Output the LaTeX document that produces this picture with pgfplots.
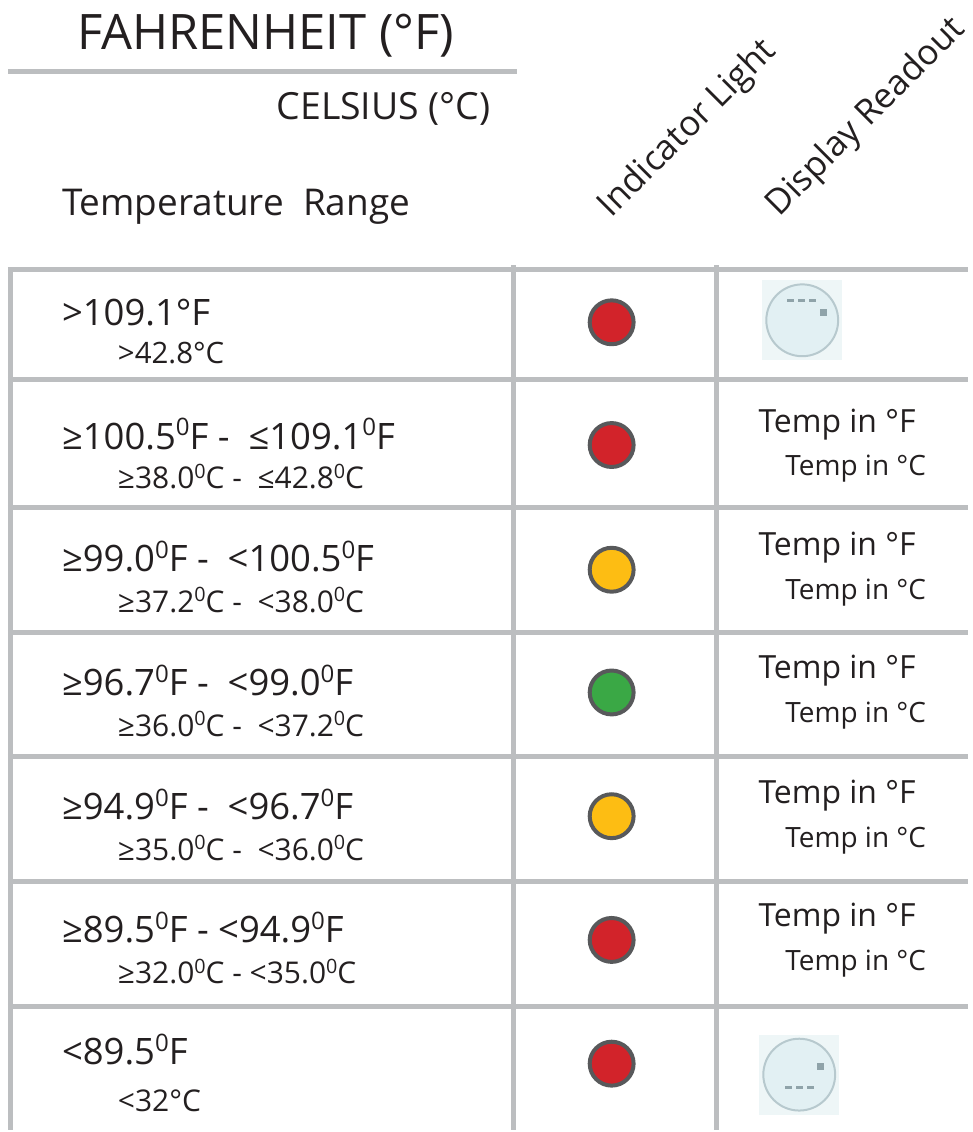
\documentclass[border=0pt]{standalone}
\usepackage{fontspec}
\setmainfont{Open Sans}
\usepackage{pgfplots}
\pgfplotsset{compat=1.18}
\usepackage{pgfplotstable}
\definecolor{gridc}{HTML}{BCBEC0}
\definecolor{txt}{HTML}{231F20}
\definecolor{cred}{HTML}{D2232A}
\definecolor{cyel}{HTML}{FDBD13}
\definecolor{cgrn}{HTML}{3AA845}
\definecolor{ring}{HTML}{58595B}
\definecolor{iconbg}{HTML}{EEF6F7}
\definecolor{iconfill}{HTML}{E2F0F3}
\definecolor{iconring}{HTML}{B7C9CE}
\definecolor{icondash}{HTML}{8FA3A9}
\newcommand\fs[1]{\fontsize{#1}{#1}\selectfont}
\newcommand\sz[1]{\raisebox{0.36em}{\scalebox{0.66}{#1}}}
\pgfplotstableread{
x y
613 323
613 446
613 942
613 1066
}\redlights
\pgfplotstableread{
x y
613 571
613 818
}\yellowlights
\pgfplotstableread{
x y
613 694
}\greenlights
\pgfplotstableread{
x y
804 321
801 1077
}\icons
\pgfplotstableread{
x y
792 301
803 301
814 301
790 1090
801 1090
812 1090
}\icondashes
\tikzset{tx/.style={inner sep=0pt, text=txt, anchor=base west}}
\begin{document}
\begin{tikzpicture}
\begin{axis}[
  width=970pt, height=1132pt, scale only axis,
  xmin=0, xmax=970, ymin=0, ymax=1132, y dir=reverse,
  axis lines=none, clip=false,
]
% table lines
\addplot[gridc, line width=5pt] coordinates {(8,71.5) (518,71.5)};
\addplot[gridc, line width=5pt] coordinates {(8,270) (970,270)};
\addplot[gridc, line width=5pt] coordinates {(8,380) (970,380)};
\addplot[gridc, line width=5pt] coordinates {(8,509) (970,509)};
\addplot[gridc, line width=5pt] coordinates {(8,634) (970,634)};
\addplot[gridc, line width=5pt] coordinates {(8,758) (970,758)};
\addplot[gridc, line width=5pt] coordinates {(8,883) (970,883)};
\addplot[gridc, line width=5pt] coordinates {(8,1009) (970,1009)};
\addplot[gridc, line width=5pt] coordinates {(10.5,268) (10.5,1132)};
\addplot[gridc, line width=5pt] coordinates {(515,266) (515,1132)};
\addplot[gridc, line width=5pt] coordinates {(718,266) (718,1132)};
% indicator lights
\addplot[only marks, mark=*, mark size=22pt, line width=4pt, draw=ring, fill=cred] table[x=x,y=y]{\redlights};
\addplot[only marks, mark=*, mark size=22pt, line width=4pt, draw=ring, fill=cyel] table[x=x,y=y]{\yellowlights};
\addplot[only marks, mark=*, mark size=22pt, line width=4pt, draw=ring, fill=cgrn] table[x=x,y=y]{\greenlights};
% display icons
\addplot[only marks, mark=square*, mark size=39.5pt, draw=iconbg, fill=iconbg, line width=0pt] table[x=x,y=y]{\icons};
\addplot[only marks, mark=*, mark size=36pt, line width=2pt, draw=iconring, fill=iconfill] table[x=x,y=y]{\icons};
\addplot[only marks, mark=-, mark size=3.5pt, line width=2.5pt, draw=icondash] table[x=x,y=y]{\icondashes};
\addplot[only marks, mark=square*, mark size=3pt, draw=icondash, fill=icondash] coordinates {(825,313) (822,1069)};
% headers
\node[tx, font=\fs{49}] at (axis cs:77,50) {FAHRENHEIT (°F)};
\node[tx, font=\fs{37.5}] at (axis cs:277,120) {CELSIUS (°C)};
\node[tx, font=\fs{37}] at (axis cs:62,216) {Temperature\ \ Range};
\node[tx, font=\fs{35}, rotate=45] at (axis cs:613,219) {Indicator Light};
\node[tx, font=\fs{35}, rotate=45] at (axis cs:781,218) {Display Readout};
% rows
\node[tx, font=\fs{36.5}] at (axis cs:62,326) {>109.1°F};
\node[tx, font=\fs{29.5}] at (axis cs:118,364) {>42.8°C};
\node[tx, font=\fs{36.5}] at (axis cs:62,450) {≥100.5\sz{0}F -\ \ ≤109.1\sz{0}F};
\node[tx, font=\fs{30}] at (axis cs:118,490) {≥38.0\sz{0}C -\ \ ≤42.8\sz{0}C};
\node[tx, font=\fs{36.5}] at (axis cs:62,573) {≥99.0\sz{0}F -\ \ <100.5\sz{0}F};
\node[tx, font=\fs{30}] at (axis cs:118,614) {≥37.2\sz{0}C -\ \ <38.0\sz{0}C};
\node[tx, font=\fs{36.5}] at (axis cs:62,697) {≥96.7\sz{0}F -\ \ <99.0\sz{0}F};
\node[tx, font=\fs{30}] at (axis cs:118,738) {≥36.0\sz{0}C -\ \ <37.2\sz{0}C};
\node[tx, font=\fs{36.5}] at (axis cs:62,821) {≥94.9\sz{0}F -\ \ <96.7\sz{0}F};
\node[tx, font=\fs{30}] at (axis cs:118,862) {≥35.0\sz{0}C -\ \ <36.0\sz{0}C};
\node[tx, font=\fs{36.5}] at (axis cs:62,945) {≥89.5\sz{0}F - <94.9\sz{0}F};
\node[tx, font=\fs{30}] at (axis cs:118,986) {≥32.0\sz{0}C - <35.0\sz{0}C};
\node[tx, font=\fs{36.5}] at (axis cs:62,1067) {<89.5\sz{0}F};
\node[tx, font=\fs{30}] at (axis cs:118,1114) {<32°C};
% display readout text
\node[tx, font=\fs{32}] at (axis cs:760,433) {Temp in °F};
\node[tx, font=\fs{28}] at (axis cs:787,477) {Temp in °C};
\node[tx, font=\fs{32}] at (axis cs:760,557) {Temp in °F};
\node[tx, font=\fs{28}] at (axis cs:787,601) {Temp in °C};
\node[tx, font=\fs{32}] at (axis cs:760,680) {Temp in °F};
\node[tx, font=\fs{28}] at (axis cs:787,724) {Temp in °C};
\node[tx, font=\fs{32}] at (axis cs:760,805) {Temp in °F};
\node[tx, font=\fs{28}] at (axis cs:787,849) {Temp in °C};
\node[tx, font=\fs{32}] at (axis cs:760,929) {Temp in °F};
\node[tx, font=\fs{28}] at (axis cs:787,973) {Temp in °C};
\draw[draw=none] (axis cs:0,0) rectangle (axis cs:970,1132);
\end{axis}
\end{tikzpicture}
\end{document}
